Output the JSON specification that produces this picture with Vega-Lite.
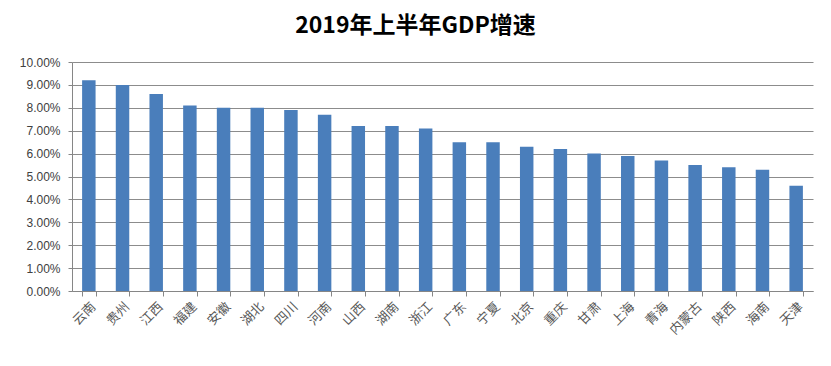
{
  "$schema": "https://vega.github.io/schema/vega-lite/v6.json",
  "autosize": {"type": "none"},
  "padding": {"left": 72, "top": 62, "right": 18, "bottom": 75},
  "width": 741,
  "height": 229,
  "background": "white",
  "title": {
    "text": "2019年上半年GDP增速",
    "font": "Noto Sans CJK SC",
    "fontSize": 23,
    "fontWeight": "bold",
    "color": "#000000",
    "anchor": "middle",
    "dx": -27,
    "offset": 18
  },
  "data": {
    "values": [
      {"province": "云南", "growth": 0.092},
      {"province": "贵州", "growth": 0.090},
      {"province": "江西", "growth": 0.086},
      {"province": "福建", "growth": 0.081},
      {"province": "安徽", "growth": 0.080},
      {"province": "湖北", "growth": 0.080},
      {"province": "四川", "growth": 0.079},
      {"province": "河南", "growth": 0.077},
      {"province": "山西", "growth": 0.072},
      {"province": "湖南", "growth": 0.072},
      {"province": "浙江", "growth": 0.071},
      {"province": "广东", "growth": 0.065},
      {"province": "宁夏", "growth": 0.065},
      {"province": "北京", "growth": 0.063},
      {"province": "重庆", "growth": 0.062},
      {"province": "甘肃", "growth": 0.060},
      {"province": "上海", "growth": 0.059},
      {"province": "青海", "growth": 0.057},
      {"province": "内蒙古", "growth": 0.055},
      {"province": "陕西", "growth": 0.054},
      {"province": "海南", "growth": 0.053},
      {"province": "天津", "growth": 0.046}
    ]
  },
  "mark": {"type": "bar", "color": "#4a7ebb"},
  "encoding": {
    "x": {
      "field": "province",
      "type": "nominal",
      "sort": null,
      "scale": {"paddingInner": 0.6, "paddingOuter": 0.3},
      "axis": {
        "title": null,
        "labelAngle": -45,
        "labelAlign": "right",
        "labelBaseline": "top",
        "labelFont": "Noto Sans CJK SC",
        "labelFontSize": 13,
        "labelColor": "#595959",
        "labelPadding": 4,
        "tickBand": "extent",
        "tickColor": "#868686",
        "tickSize": 5,
        "domainColor": "#868686",
        "grid": false
      }
    },
    "y": {
      "field": "growth",
      "type": "quantitative",
      "scale": {"domain": [0, 0.1], "nice": false},
      "axis": {
        "title": null,
        "format": ".2%",
        "values": [0, 0.01, 0.02, 0.03, 0.04, 0.05, 0.06, 0.07, 0.08, 0.09, 0.1],
        "labelFont": "Liberation Sans",
        "labelFontSize": 12,
        "labelColor": "#404040",
        "labelPadding": 8,
        "tickColor": "#868686",
        "tickSize": 4,
        "domainColor": "#868686",
        "gridColor": "#8c8c8c",
        "gridWidth": 1
      }
    }
  },
  "config": {
    "view": {"stroke": null}
  }
}
